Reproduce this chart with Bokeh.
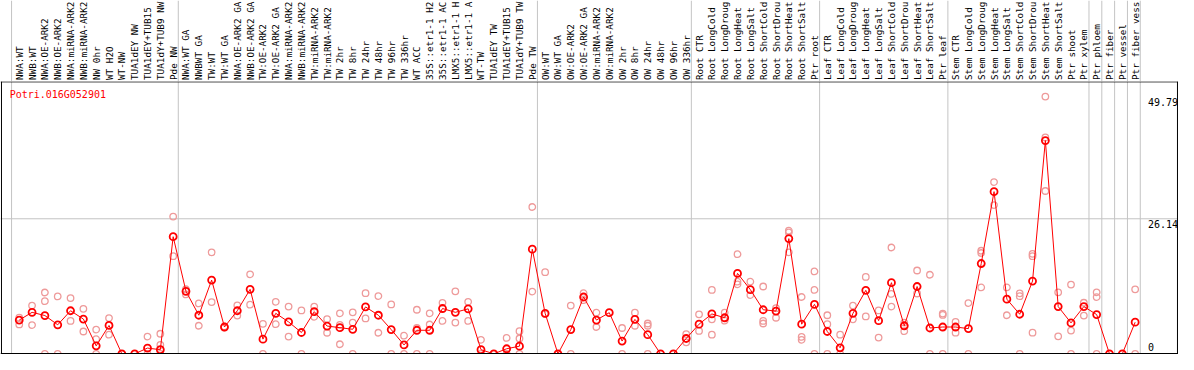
import numpy as np
from bokeh.plotting import figure
from bokeh.layouts import column
from bokeh.models import Range1d, Span, ColumnDataSource
from bokeh.core.properties import value
from bokeh.embed import file_html
from bokeh.resources import INLINE

# ---------------- data ----------------
gene_id = "Potri.016G052901"

labels = [
    "NWA:WT", "NWB:WT", "NWA:OE-ARK2", "NWB:OE-ARK2", "NWA:miRNA-ARK2", "NWB:miRNA-ARK2",
    "NW 0hr", "WT H2O", "WT-NW", "TUA1dEY NW", "TUA1dEY+TUB15", "TUA1dY+TUB9 NW", "Pde NW",
    "NWA:WT GA", "NWBWT GA", "TW:WT", "TW:WT GA", "NWA:OE-ARK2 GA", "NWB:OE-ARK2 GA",
    "TW:OE-ARK2", "TW:OE-ARK2 GA", "NWA:miRNA-ARK2", "NWB:miRNA-ARK2", "TW:miRNA-ARK2",
    "TW:miRNA-ARK2", "TW 2hr", "TW 8hr", "TW 24hr", "TW 48hr", "TW 96hr", "TW 336hr",
    "WT ACC", "35S::etr1-1 H2", "35S::etr1-1 AC", "LMX5::etr1-1 H", "LMX5::etr1-1 A",
    "WT-TW", "TUA1dEY TW", "TUA1dEY+TUB15", "TUA1dY+TUB9 TW", "Pde TW",
    "OW:WT", "OW:WT GA", "OW:OE-ARK2", "OW:OE-ARK2 GA", "OW:miRNA-ARK2", "OW:miRNA-ARK2",
    "OW 2hr", "OW 8hr", "OW 24hr", "OW 48hr", "OW 96hr", "OW 336hr",
    "Root CTR", "Root LongCold", "Root LongDroug", "Root LongHeat", "Root LongSalt",
    "Root ShortCold", "Root ShortDrou", "Root ShortHeat", "Root ShortSalt", "Ptr root",
    "Leaf CTR", "Leaf LongCold", "Leaf LongDroug", "Leaf LongHeat", "Leaf LongSalt",
    "Leaf ShortCold", "Leaf ShortDrou", "Leaf ShortHeat", "Leaf ShortSalt", "Ptr leaf",
    "Stem CTR", "Stem LongCold", "Stem LongDroug", "Stem LongHeat", "Stem LongSalt",
    "Stem ShortCold", "Stem ShortDrou", "Stem ShortHeat", "Stem ShortSalt", "Ptr shoot",
    "Ptr xylem", "Ptr phloem", "Ptr fiber", "Ptr vessel", "Ptr fiber vess",
]

means = [
    6.54, 8.03, 7.41, 5.62, 8.34, 6.73, 1.54, 5.49, 0.0, 0.0, 1.11, 0.80, 22.67,
    12.10, 7.47, 14.27, 5.19, 8.34, 12.48, 2.84, 7.84, 6.17, 4.13, 8.16, 5.38, 5.06,
    4.75, 9.08, 7.47, 4.69, 1.72, 4.56, 4.56, 8.77, 8.03, 8.71, 0.80, 0.0, 0.98, 1.48, 20.26,
    7.84, 0.0, 4.69, 11.00, 6.54, 7.96, 2.47, 6.67, 3.71, 0.0, 0.0, 2.97,
    5.74, 7.72, 6.98, 15.57, 12.42, 8.53, 8.28, 22.30, 5.74, 9.57,
    4.32, 1.17, 7.84, 12.29, 6.42, 13.77, 5.43, 13.03, 5.00, 5.19,
    5.19, 4.88, 17.48, 31.39, 10.57, 7.66, 14.09, 41.27, 9.14, 5.99, 9.14,
    7.60, 0.0, 0.0, 6.12,
]

rep1 = [
    7.00, 9.33, 11.87, 11.12, 10.80, 8.71, 4.69, 6.92, 0.0, 0.0, 3.34, 3.89, 26.57,
    12.50, 9.75, 19.65, 5.30, 9.38, 15.39, 5.80, 10.07, 9.14, 8.40, 9.14, 6.73, 7.84,
    8.03, 11.74, 11.18, 9.57, 3.52, 8.53, 7.84, 9.88, 12.10, 10.07, 2.71, 0.0, 3.08, 4.38, 28.42,
    15.81, 0.0, 9.33, 11.74, 7.96, None, 5.00, 7.96, 5.87, 0.0, 0.0, 3.83,
    7.65, 12.36, 7.96, 19.28, 13.96, 13.03, 8.84, 23.84, 11.00, 15.94,
    7.47, 3.71, 9.33, 14.89, 8.40, 20.58, 6.04, 16.13, 15.31, 7.79,
    6.18, 9.83, 19.95, 33.24, 12.85, 11.71, 19.34, 49.79, 11.90, 13.40, 9.89,
    11.90, 0.0, 0.0, 12.48,
]

rep2 = [
    5.70, 5.56, 10.20, 0.0, 6.36, 4.32, 2.84, 3.71, None, None, 0.0, 1.72, 18.91,
    11.49, 5.43, 10.01, 5.10, 7.41, 9.51, 0.0, 5.74, 3.34, 0.0, 7.16, 4.08, 5.62,
    6.04, 6.86, 4.08, 0.0, 0.0, 5.00, 5.68, 6.36, 6.04, 6.36, 0.0, None, 0.0, 2.97, 12.05,
    7.70, None, 0.0, 10.38, 5.19, None, 0.0, 5.43, 5.43, None, None, 2.22,
    4.44, 6.67, 6.42, 13.46, 11.37, 6.36, 6.98, 23.50, 3.28, 12.36,
    5.74, 0.0, 6.67, 7.23, 3.15, 11.60, 4.38, 11.68, 0.0, 7.53,
    4.10, 0.0, 19.52, 28.79, 7.47, 11.16, 18.91, 41.89, 3.39, 4.50, 7.41,
    10.98, None, None, 0.0,
]

rep3 = [
    None, None, 0.0, None, None, None, 0.0, None, None, None, None, 0.0, None,
    None, None, None, None, None, None, None, None, None, None, None, None, 1.85,
    0.0, None, None, None, None, 0.0, 0.0, None, None, None, None, None, None, 0.0, None,
    None, None, None, None, None, None, None, None, 0.0, None, None, None,
    None, 3.71, None, 13.96, None, 5.87, None, 19.65, 2.71, 0.0,
    0.0, None, None, None, None, 9.14, None, None, None, 0.0,
    None, None, 12.85, None, None, 0.0, 4.10, 31.52, None, 0.0, None,
    0.0, None, None, None,
]

group_edges = [0, 13, 41, 53, 63, 73, 84, 85, 86, 87, 88]
y_ticks = [0, 26.14, 49.79]
y_tick_labels = ["0", "26.14", "49.79"]

# ---------------- layout ----------------
W, H = 1178, 354
TOP_H = 81
BOT_H = H - TOP_H
FONT = value("DejaVu Sans Mono")
GRID = "#c4c4c4"
REP = "#ee9a9a"

xs = [i + 0.6 for i in range(len(labels))]
x_range = Range1d(-0.8615, 90.98)


def bare(fig):
    fig.grid.visible = False
    fig.min_border = 0
    fig.min_border_left = fig.min_border_right = 0
    fig.min_border_top = fig.min_border_bottom = 0
    fig.outline_line_color = None
    fig.background_fill_color = "white"
    fig.border_fill_color = "white"


top = figure(width=W, height=TOP_H, x_range=x_range, y_range=Range1d(0, TOP_H),
             toolbar_location=None, output_backend="svg",
             x_axis_location=None, y_axis_location=None)
bare(top)
for e in group_edges:
    top.add_layout(Span(location=e, dimension="height", line_color=GRID,
                        line_width=1, level="underlay"))
top.text(x=xs, y=[1.5] * len(xs), text=labels, angle=np.pi / 2,
         text_align="left", text_baseline="middle",
         text_font=FONT, text_font_size="9.3px", text_color="black")

bot = figure(width=W, height=BOT_H, x_range=x_range, y_range=Range1d(-0.13, 52.71),
             toolbar_location=None, output_backend="svg",
             x_axis_location=None, y_axis_location=None)
bare(bot)
for e in group_edges:
    bot.add_layout(Span(location=e, dimension="height", line_color=GRID,
                        line_width=1, level="underlay"))
bot.add_layout(Span(location=y_ticks[1], dimension="width", line_color=GRID,
                    line_width=1, level="underlay"))

# borders
bot.add_layout(Span(location=52.64, dimension="width", line_color="black", line_width=1))
bot.add_layout(Span(location=0, dimension="width", line_color="black", line_width=1.5))
bot.add_layout(Span(location=-0.785, dimension="height", line_color="black", line_width=1))
bot.add_layout(Span(location=90.9, dimension="height", line_color="black", line_width=1))

for reps in (rep1, rep2, rep3):
    r = np.array(reps, dtype=float)
    bot.scatter(x=xs, y=r, marker="circle", size=6.5, fill_color=None,
                line_color=REP, line_width=1.3)

src = ColumnDataSource(dict(x=xs, y=means))
bot.line("x", "y", source=src, line_color="red", line_width=1)
bot.scatter("x", "y", source=src, marker="circle", size=7, fill_color=None,
            line_color="red", line_width=1.8)

# y tick labels at right
bot.text(x=[88.6, 88.6], y=y_ticks[1:], text=y_tick_labels[1:],
         text_align="left", text_baseline="top", y_offset=1,
         text_font=FONT, text_font_size="10px", text_color="black")
bot.text(x=[88.6], y=y_ticks[:1], text=y_tick_labels[:1],
         text_align="left", text_baseline="bottom", y_offset=-3,
         text_font=FONT, text_font_size="10px", text_color="black")

# gene id
bot.text(x=[-0.15], y=[51.3], text=[gene_id], text_align="left", text_baseline="top",
         text_font=FONT, text_font_size="10px", text_color="red")

layout = column(top, bot, spacing=0)
open("out.html", "w").write(file_html(layout, INLINE))
